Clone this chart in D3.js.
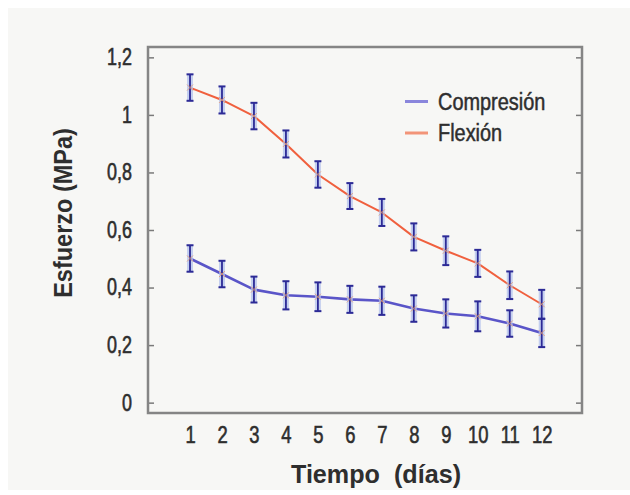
<!DOCTYPE html>
<html>
<head>
<meta charset="utf-8">
<script src="https://cdn.jsdelivr.net/npm/d3@7/dist/d3.min.js"></script>
<style>
  html, body { margin: 0; padding: 0; background: #ffffff; }
  svg { display: block; }
  text { font-family: "Liberation Sans", Arial, sans-serif; fill: #2e2e2e; }
</style>
</head>
<body>
<svg id="chart" width="630" height="495"></svg>
<script>
// Days of measurement
const days = [1, 2, 3, 4, 5, 6, 7, 8, 9, 10, 11, 12];

// Mean stress (MPa) and error half-widths per series
const flexion    = [1.095, 1.052, 0.996, 0.899, 0.793, 0.718, 0.661, 0.576, 0.528, 0.484, 0.408, 0.342];
const flexionErr = [0.046, 0.047, 0.046, 0.047, 0.046, 0.045, 0.047, 0.047, 0.050, 0.047, 0.048, 0.050];
const compresion    = [0.501, 0.447, 0.393, 0.373, 0.368, 0.359, 0.354, 0.327, 0.310, 0.300, 0.275, 0.242];
const compresionErr = [0.046, 0.046, 0.045, 0.049, 0.050, 0.047, 0.049, 0.046, 0.049, 0.052, 0.046, 0.049];

// Axis ticks and labels
const yTicks = [0, 0.2, 0.4, 0.6, 0.8, 1, 1.2];
const yTickLabels = ["0", "0,2", "0,4", "0,6", "0,8", "1", "1,2"];
const seriesNames = ["Compresión", "Flexión"];

const svg = d3.select("#chart");

// faint paper background
svg.append("rect").attr("x", 8).attr("y", 8).attr("width", 622).attr("height", 482)
  .attr("fill", "#f7f7f5");

const frame = { left: 148, right: 582, top: 47, bottom: 413 };

const x = d3.scaleLinear().domain([-0.314, 13.26]).range([frame.left, frame.right]);
const y = d3.scaleLinear().domain([-0.036, 1.236]).range([frame.bottom, frame.top]);

// condensed, slightly heavy label style
function labelStyle(sel, size, weight) {
  sel.style("font-size", size + "px")
    .attr("fill", "#2e2e2e").attr("stroke", "#2e2e2e").attr("stroke-width", weight);
}

// left axis with inward ticks
const yAxisL = d3.axisLeft(y).tickValues(yTicks).tickSizeInner(-6).tickSizeOuter(0)
  .tickFormat((d, i) => yTickLabels[i]).tickPadding(16);
const gL = svg.append("g").attr("transform", `translate(${frame.left},0)`).call(yAxisL);
gL.select(".domain").remove();
gL.selectAll(".tick line").attr("stroke", "#7a7a7a").attr("stroke-width", 1.5);
gL.selectAll(".tick text")
  .call(labelStyle, 23, 0.6)
  .each(function () {
    const t = d3.select(this);
    const tx = +t.attr("x");
    t.attr("x", null).attr("transform", `translate(${tx},0) scale(0.78,1)`);
  });

// right axis with inward ticks
const yAxisR = d3.axisRight(y).tickValues(yTicks).tickSizeInner(-6).tickSizeOuter(0).tickFormat("");
const gR = svg.append("g").attr("transform", `translate(${frame.right},0)`).call(yAxisR);
gR.select(".domain").remove();
gR.selectAll(".tick line").attr("stroke", "#7a7a7a").attr("stroke-width", 1.5);

// bottom axis: labels only
const xAxis = d3.axisBottom(x).tickValues(days).tickSize(0).tickPadding(0).tickFormat(d3.format("d"));
const gB = svg.append("g").attr("transform", `translate(0,${frame.bottom})`).call(xAxis);
gB.select(".domain").remove();
gB.selectAll(".tick text")
  .call(labelStyle, 23, 0.6)
  .attr("y", null).attr("dy", null)
  .attr("transform", "translate(0,29.5) scale(0.8,1)");

// frame box
svg.append("rect")
  .attr("x", frame.left).attr("y", frame.top)
  .attr("width", frame.right - frame.left).attr("height", frame.bottom - frame.top)
  .attr("fill", "none").attr("stroke", "#858585").attr("stroke-width", 2.5);

// series
const series = [
  { values: compresion, err: compresionErr, color: "#5a55c8", width: 2.6, legend: "#8a86dc" },
  { values: flexion, err: flexionErr, color: "#f0603e", width: 2, legend: "#f29478" }
];

const line = d3.line().x((d, i) => x(days[i])).y(d => y(d));

series.forEach(s => {
  const g = svg.append("g");
  g.append("path").datum(s.values)
    .attr("d", line).attr("fill", "none")
    .attr("stroke", s.color).attr("stroke-width", s.width).attr("stroke-linejoin", "round");

  const bars = g.selectAll("g.err").data(s.values).join("g").attr("class", "err");
  // soft halo behind the bars
  bars.append("line")
    .attr("x1", (d, i) => x(days[i])).attr("x2", (d, i) => x(days[i]))
    .attr("y1", (d, i) => y(d + s.err[i])).attr("y2", (d, i) => y(d - s.err[i]))
    .attr("stroke", "#b4c2ee").attr("stroke-width", 6).attr("opacity", 0.75);
  bars.append("line")
    .attr("x1", (d, i) => x(days[i])).attr("x2", (d, i) => x(days[i]))
    .attr("y1", (d, i) => y(d + s.err[i])).attr("y2", (d, i) => y(d - s.err[i]))
    .attr("stroke", "#2c2a96").attr("stroke-width", 1.8);
  [1, -1].forEach(sign => {
    bars.append("line")
      .attr("x1", (d, i) => x(days[i]) - 3.5).attr("x2", (d, i) => x(days[i]) + 3.5)
      .attr("y1", (d, i) => y(d + sign * s.err[i])).attr("y2", (d, i) => y(d + sign * s.err[i]))
      .attr("stroke", "#2c2a96").attr("stroke-width", 2);
  });
  // small point markers
  bars.append("path")
    .attr("d", (d, i) => {
      const cx = x(days[i]), cy = y(d), r = 3;
      return `M${cx - r},${cy - r}L${cx + r},${cy + r}M${cx - r},${cy + r}L${cx + r},${cy - r}`;
    })
    .attr("stroke", "#e89a70").attr("stroke-width", 1).attr("opacity", 0.8);
});

// legend
const legend = svg.append("g");
series.forEach((s, i) => {
  const ly = 101.5 + i * 31.5;
  legend.append("line").attr("x1", 405).attr("x2", 428).attr("y1", ly).attr("y2", ly)
    .attr("stroke", s.legend).attr("stroke-width", 3);
  legend.append("text")
    .attr("transform", `translate(438,${ly + 8}) scale(0.83,1)`)
    .call(labelStyle, 24, 0.5)
    .text(seriesNames[i]);
});

// axis titles
svg.append("text")
  .attr("transform", "translate(72,213) rotate(-90) scale(0.94,1)")
  .attr("text-anchor", "middle")
  .style("font-size", "25px").style("font-weight", "bold")
  .text("Esfuerzo (MPa)");

svg.append("text")
  .attr("transform", "translate(376,483) scale(0.95,1)")
  .attr("text-anchor", "middle")
  .style("font-size", "26.5px").style("font-weight", "bold")
  .attr("xml:space", "preserve")
  .text("Tiempo  (días)");
</script>
</body>
</html>
